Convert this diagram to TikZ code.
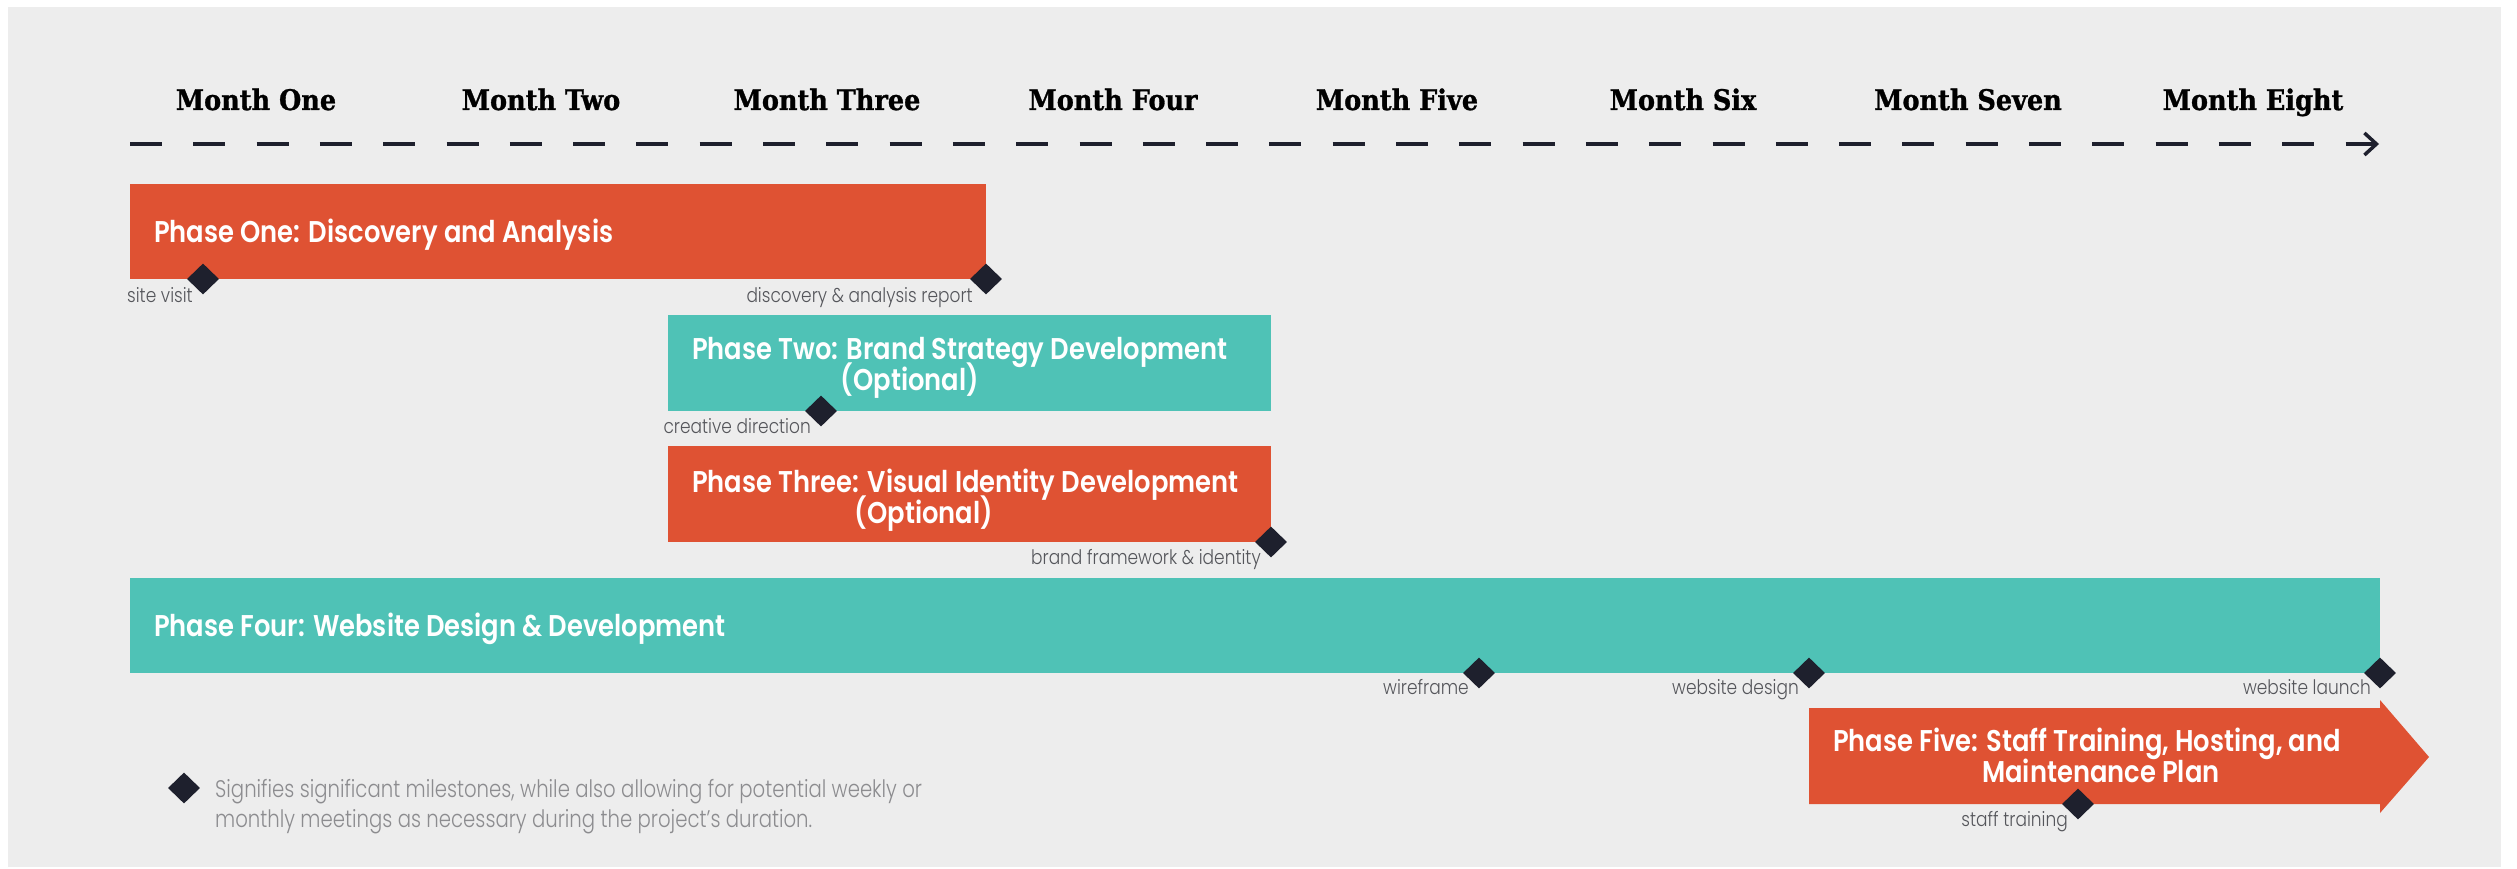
\documentclass[tikz,border=0pt]{standalone}
\usepackage{fontspec}
\usetikzlibrary{shapes.geometric,arrows.meta}
\newfontfamily\monthfont[FakeStretch=0.9,FakeBold=1]{DejaVu Serif}
\newfontfamily\phasefont[FakeStretch=0.86]{Poppins SemiBold}
\newfontfamily\labelfont[FakeStretch=0.85]{Poppins Light}
\newfontfamily\legendfont[FakeStretch=0.82]{Poppins Light}
\definecolor{bgc}{HTML}{EDEDED}
\definecolor{orng}{HTML}{DF5233}
\definecolor{tealc}{HTML}{4FC2B6}
\definecolor{ink}{HTML}{1E202D}
\definecolor{lbl}{HTML}{55565B}
\definecolor{legendc}{HTML}{8C8C8F}
\begin{document}
\begin{tikzpicture}[x=1pt,y=-1pt,
  month/.style={font=\monthfont\bfseries\fontsize{28.4}{34}\selectfont, text=black, anchor=base, inner sep=0pt},
  bar/.style={draw=none, inner sep=0pt, anchor=north west},
  ptext/.style={font=\phasefont\fontsize{30}{36}\selectfont, text=white, inner sep=0pt},
  ms/.style={diamond, fill=ink, inner sep=0pt, minimum width=32pt, minimum height=31pt},
  mlabel/.style={font=\labelfont\fontsize{20}{24}\selectfont, text=lbl, anchor=base east, inner sep=0pt},
  legend/.style={font=\legendfont\fontsize{24}{29}\selectfont, text=legendc, anchor=base west, inner sep=0pt}]
\useasboundingbox (0,0) rectangle (2517,869);
\fill[white] (0,0) rectangle (2517,869);
\fill[bgc] (8,7) rectangle (2501,867);
% months
\node[month] (mo1) at (256,110) {Month One};
\node[month] (mo2) at (541,110) {Month Two};
\node[month] (mo3) at (827,110) {Month Three};
\node[month] (mo4) at (1113,110) {Month Four};
\node[month] (mo5) at (1397,110) {Month Five};
\node[month] (mo6) at (1683,110) {Month Six};
\node[month] (mo7) at (1968,110) {Month Seven};
\node[month] (mo8) at (2253,110) {Month Eight};
% timeline
\coordinate (tl0) at (130,144);
\coordinate (tl1) at (2379,144);
\draw[ink, line width=3.5pt, dash pattern=on 32pt off 31.3pt, -{Straight Barb[length=12pt,width=22pt]}] (tl0) -- (tl1);
% bars
\node[bar, fill=orng, minimum width=856pt, minimum height=95pt] (p1) at (130,184) {};
\node[bar, fill=tealc, minimum width=603pt, minimum height=96pt] (p2) at (668,315) {};
\node[bar, fill=orng, minimum width=603pt, minimum height=96pt] (p3) at (668,446) {};
\node[bar, fill=tealc, minimum width=2250pt, minimum height=95pt] (p4) at (130,578) {};
\fill[orng] (1809,708) -- (2380,708) -- (2380,700) -- (2429,757) -- (2380,813) -- (2380,804) -- (1809,804) -- cycle;
% bar texts
\node[ptext, anchor=base west] (t1) at (154,243) {Phase One: Discovery and Analysis};
\node[ptext, anchor=base west] (t2a) at (692,359) {Phase Two: Brand Strategy Development};
\node[ptext, anchor=base] (t2b) at (910,390) {(Optional)};
\node[ptext, anchor=base west] (t3a) at (692,492) {Phase Three: Visual Identity Development};
\node[ptext, anchor=base] (t3b) at (924,523) {(Optional)};
\node[ptext, anchor=base west] (t4) at (154,636) {Phase Four: Website Design \& Development};
\node[ptext, anchor=base west] (t5a) at (1833,751) {Phase Five: Staff Training, Hosting, and};
\node[ptext, anchor=base] (t5b) at (2101,782) {Maintenance Plan};
% milestones
\node[ms] (m1) at (203,279) {};
\node[ms] (m2) at (986,279) {};
\node[ms] (m3) at (821,411) {};
\node[ms] (m4) at (1271,542) {};
\node[ms] (m5) at (1479,673) {};
\node[ms] (m6) at (1809,673) {};
\node[ms] (m7) at (2380,673) {};
\node[ms] (m8) at (2078,804) {};
\node[mlabel] (l1) at (193,302) {site visit};
\node[mlabel] (l2) at (973,302) {discovery \& analysis report};
\node[mlabel] (l3) at (811,433) {creative direction};
\node[mlabel] (l4) at (1261,564) {brand framework \& identity};
\node[mlabel] (l5) at (1469,694) {wireframe};
\node[mlabel] (l6) at (1799,694) {website design};
\node[mlabel] (l7) at (2371,694) {website launch};
\node[mlabel] (l8) at (2068,826) {staff training};
% legend
\node[ms] (lg) at (184,788) {};
\node[legend] (lg1) at (215,797) {Signifies significant milestones, while also allowing for potential weekly or};
\node[legend] (lg2) at (215,827) {monthly meetings as necessary during the project’s duration.};
\end{tikzpicture}
\end{document}
